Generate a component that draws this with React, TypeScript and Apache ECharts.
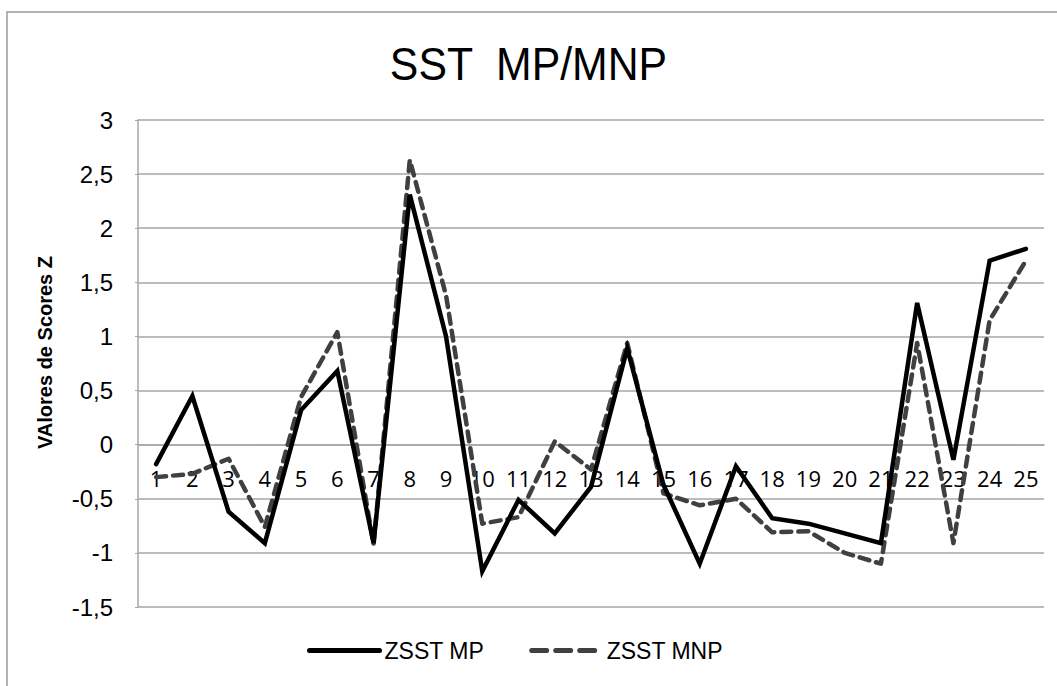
import React, { useEffect, useRef } from "react";
import * as echarts from "echarts";

const categories = ["1","2","3","4","5","6","7","8","9","10","11","12","13","14","15","16","17","18","19","20","21","22","23","24","25"];
const zsstMP = [-0.18, 0.45, -0.62, -0.91, 0.32, 0.68, -0.91, 2.31, 1.0, -1.17, -0.51, -0.82, -0.39, 0.89, -0.37, -1.1, -0.2, -0.68, -0.73, -0.82, -0.91, 1.31, -0.14, 1.7, 1.81];
const zsstMNP = [-0.3, -0.27, -0.13, -0.76, 0.44, 1.04, -0.92, 2.63, 1.38, -0.73, -0.67, 0.03, -0.23, 0.94, -0.45, -0.56, -0.5, -0.81, -0.8, -1.0, -1.1, 0.94, -0.91, 1.15, 1.7];
const seriesNames = ["ZSST MP", "ZSST MNP"];
const titleText = "SST  MP/MNP";
const yAxisName = "VAlores de Scores Z";
const yMin = -1.5;
const yMax = 3;
const yStep = 0.5;

const W = 1057;
const H = 686;
const gridTop = 120;
const gridBottom = 79;

export default function App() {
  const ref = useRef<HTMLDivElement>(null);
  useEffect(() => {
    if (!ref.current) return;
    const chart = echarts.init(ref.current, null, { renderer: "svg" });
    const gridHeight = H - gridTop - gridBottom;
    const zeroOffset = -gridHeight * (0 - yMin) / (yMax - yMin);
    chart.setOption({
      animation: false,
      backgroundColor: "#ffffff",
      graphic: [
        { type: "rect", shape: { x: 7, y: 12, width: 1100, height: 720 }, style: { fill: "none", stroke: "#9a9a9a", lineWidth: 1.5 }, silent: true, z: -1 },
        {
          type: "text",
          x: 528.5,
          y: 64,
          scaleX: 0.93,
          style: {
            text: titleText,
            textAlign: "center",
            textVerticalAlign: "middle",
            fontFamily: "Liberation Sans, Arial, sans-serif",
            fontSize: 46,
            fill: "#000",
          },
          silent: true,
        },
      ],
      legend: {
        top: 634,
        left: 302,
        itemWidth: 70,
        itemHeight: 14,
        itemGap: 45,
        itemStyle: { opacity: 0 },
        textStyle: { fontFamily: "Liberation Sans, Arial, sans-serif", fontSize: 23, color: "#000" },
        data: [
          { name: seriesNames[0], itemStyle: { opacity: 0 }, lineStyle: { width: 5, color: "#000000", cap: "round" } },
          { name: seriesNames[1], itemStyle: { opacity: 0 }, lineStyle: { width: 5, color: "#404040", type: [15, 9], cap: "round" } },
        ],
      },
      grid: { left: 138, right: 13, top: gridTop, bottom: gridBottom },
      xAxis: {
        type: "category",
        data: categories,
        boundaryGap: true,
        position: "bottom",
        offset: zeroOffset,
        axisLine: { onZero: false, lineStyle: { color: "#a6a6a6", width: 1.5 } },
        axisTick: { show: false },
        axisLabel: { margin: 22, fontFamily: "Open Sans, sans-serif", fontSize: 22, color: "#000", interval: 0 },
      },
      yAxis: {
        type: "value",
        min: yMin,
        max: yMax,
        interval: yStep,
        name: yAxisName,
        nameLocation: "middle",
        nameGap: 83,
        nameTextStyle: { fontFamily: "Liberation Sans, Arial, sans-serif", fontSize: 20, fontWeight: "bold", color: "#000", padding: [0, 0, 0, 22] },
        axisLine: { show: true, lineStyle: { color: "#a6a6a6", width: 1.5 } },
        axisTick: { show: true, length: 3, lineStyle: { color: "#a6a6a6" } },
        axisLabel: {
          margin: 25,
          fontFamily: "Liberation Sans, Arial, sans-serif",
          fontSize: 24,
          color: "#000",
          formatter: (v: number) => String(v).replace(".", ","),
        },
        splitLine: { lineStyle: { color: "#a6a6a6", width: 1.5 } },
      },
      series: [
        {
          name: seriesNames[0],
          type: "line",
          data: zsstMP,
          symbol: "none",
          lineStyle: { color: "#000000", width: 4.5, cap: "round", join: "miter" },
          itemStyle: { color: "#000000" },
          z: 3,
        },
        {
          name: seriesNames[1],
          type: "line",
          data: zsstMNP,
          symbol: "none",
          lineStyle: { color: "#404040", width: 4.5, type: [10, 7], cap: "round", join: "round" },
          itemStyle: { color: "#404040" },
          z: 2,
        },
      ],
    });
    return () => chart.dispose();
  }, []);
  return <div ref={ref} style={{ position: "fixed", left: 0, top: 0, width: W, height: H }} />;
}
